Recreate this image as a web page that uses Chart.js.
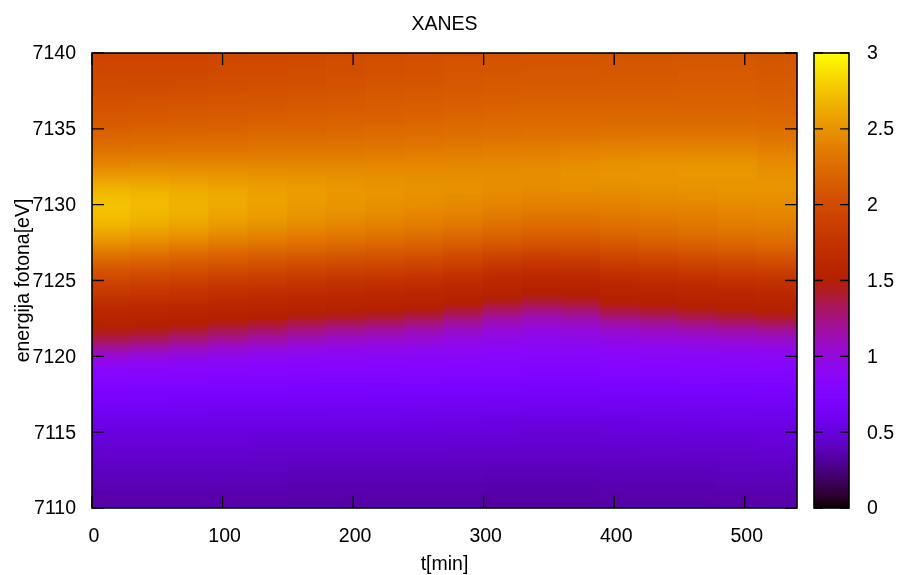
<!DOCTYPE html>
<html>
<head>
<meta charset="utf-8">
<title>XANES</title>
<script src="https://cdn.jsdelivr.net/npm/chart.js@4"></script>
<style>
    body { margin: 0; background: #fff; }
    canvas { position: absolute; top: 0; }
    #wykres { left: 0; }
    #skala { left: 800px; }
</style>
</head>
<body>
<canvas id="wykres" width="898" height="575"></canvas>
<canvas id="skala" width="98" height="575"></canvas>
<script>
// srodki kolumn czasu [min], kazda kolumna ma 30 min szerokosci
const times = [15, 45, 75, 105, 135, 165, 195, 225, 255, 285, 315, 345, 375, 405, 435, 465, 495, 525];

// srodki wierszy energii [eV]
const energies = [
    7110.5, 7111.5, 7112.5, 7113.5, 7114.5,
    7115, 7115.5, 7116, 7116.5, 7117, 7117.5, 7118, 7118.5, 7119,
    7119.5, 7120, 7120.5, 7121, 7121.5, 7122, 7122.5, 7123, 7123.5, 7124, 7124.5, 7125, 7125.5, 7126,
    7126.5, 7127, 7127.5, 7128, 7128.5, 7129, 7129.5, 7130, 7130.5, 7131, 7131.5, 7132, 7132.5, 7133,
    7133.5, 7134, 7134.5, 7135, 7135.5, 7136, 7136.5, 7137,
    7138, 7139, 7140
];

// odczyty z obrazka, jedna tablica na kazdy czas, kolejnosc jak w energies
const t15 = [.35,.38,.41,.45,.49,.51,.54,.57,.61,.65,.69,.74,.79,.84, .92,1.03,1.18,1.33,1.44,1.52,1.56,1.61,1.69,1.78,1.86,1.95,2.05,2.15, 2.27,2.38,2.49,2.58,2.65,2.70,2.73,2.74,2.72,2.67,2.60,2.52,2.44,2.37,2.30,2.25,2.20,2.16,2.12,2.09,2.06,2.03, 1.98,1.95,1.93];
const t45 = [.35,.38,.41,.45,.49,.51,.54,.57,.61,.65,.69,.73,.78,.84, .90,1.00,1.14,1.29,1.41,1.50,1.55,1.60,1.67,1.76,1.84,1.93,2.03,2.13, 2.24,2.35,2.45,2.54,2.61,2.66,2.69,2.70,2.69,2.65,2.59,2.52,2.45,2.38,2.31,2.26,2.21,2.17,2.13,2.10,2.07,2.04, 1.98,1.95,1.93];
const t75 = [.35,.38,.41,.45,.49,.51,.54,.57,.60,.64,.68,.73,.78,.83, .88,.97,1.09,1.23,1.36,1.47,1.54,1.58,1.65,1.73,1.81,1.90,2.00,2.10, 2.20,2.31,2.41,2.50,2.57,2.62,2.65,2.66,2.65,2.62,2.57,2.51,2.44,2.38,2.32,2.27,2.22,2.18,2.14,2.11,2.08,2.05, 1.99,1.96,1.94];
const t105 = [.35,.38,.41,.45,.49,.51,.53,.56,.60,.64,.68,.72,.77,.82, .86,.94,1.04,1.17,1.30,1.42,1.52,1.56,1.62,1.69,1.77,1.86,1.96,2.06, 2.16,2.26,2.36,2.45,2.52,2.57,2.60,2.62,2.62,2.59,2.55,2.50,2.44,2.38,2.32,2.27,2.23,2.19,2.15,2.12,2.09,2.07, 2.01,1.98,1.96];
const t135 = [.35,.38,.41,.44,.48,.50,.53,.56,.60,.64,.67,.72,.76,.81, .85,.92,1.01,1.13,1.25,1.38,1.49,1.55,1.60,1.66,1.74,1.83,1.93,2.03, 2.13,2.23,2.33,2.41,2.48,2.53,2.56,2.58,2.58,2.57,2.53,2.49,2.43,2.38,2.32,2.28,2.24,2.20,2.16,2.13,2.10,2.08, 2.02,1.99,1.97];
const t165 = [.34,.37,.40,.44,.48,.50,.53,.56,.60,.63,.67,.71,.75,.80, .84,.90,.98,1.08,1.20,1.32,1.44,1.53,1.58,1.64,1.71,1.80,1.90,2.00, 2.10,2.20,2.29,2.37,2.44,2.49,2.52,2.54,2.55,2.55,2.52,2.48,2.43,2.38,2.33,2.28,2.24,2.20,2.17,2.14,2.11,2.09, 2.03,2.00,1.98];
const t195 = [.34,.37,.40,.44,.48,.50,.53,.56,.59,.63,.67,.71,.75,.79, .83,.89,.96,1.05,1.16,1.28,1.41,1.51,1.56,1.62,1.69,1.77,1.87,1.97, 2.07,2.17,2.26,2.34,2.40,2.45,2.49,2.51,2.52,2.52,2.50,2.47,2.43,2.38,2.33,2.29,2.25,2.21,2.18,2.15,2.12,2.10, 2.05,2.02,2.00];
const t225 = [.34,.37,.40,.44,.48,.50,.53,.56,.59,.63,.66,.70,.74,.79, .82,.88,.95,1.03,1.13,1.25,1.38,1.49,1.55,1.60,1.67,1.75,1.85,1.95, 2.05,2.14,2.23,2.31,2.37,2.42,2.46,2.48,2.50,2.50,2.49,2.46,2.43,2.39,2.34,2.30,2.26,2.23,2.19,2.16,2.14,2.12, 2.07,2.04,2.02];
const t255 = [.34,.37,.40,.44,.48,.50,.52,.55,.59,.62,.66,.70,.74,.78, .82,.87,.93,1.01,1.10,1.21,1.34,1.46,1.54,1.58,1.64,1.72,1.82,1.92, 2.02,2.11,2.20,2.28,2.34,2.39,2.43,2.46,2.48,2.49,2.48,2.46,2.43,2.39,2.35,2.31,2.27,2.24,2.20,2.17,2.15,2.13, 2.08,2.05,2.03];
const t285 = [.34,.37,.40,.43,.47,.49,.52,.55,.58,.62,.66,.69,.73,.77, .81,.86,.91,.97,1.05,1.14,1.26,1.39,1.50,1.56,1.61,1.68,1.77,1.87, 1.97,2.07,2.16,2.24,2.31,2.36,2.41,2.44,2.46,2.48,2.48,2.46,2.43,2.40,2.36,2.32,2.28,2.25,2.22,2.19,2.16,2.14, 2.10,2.07,2.05];
const t315 = [.33,.36,.39,.43,.47,.49,.51,.54,.58,.61,.65,.69,.73,.77, .80,.85,.89,.94,1.00,1.07,1.17,1.30,1.43,1.52,1.57,1.62,1.70,1.80, 1.91,2.01,2.11,2.19,2.26,2.32,2.37,2.41,2.44,2.46,2.47,2.46,2.44,2.41,2.37,2.33,2.29,2.26,2.23,2.20,2.17,2.15, 2.11,2.08,2.06];
const t345 = [.33,.36,.39,.43,.46,.48,.51,.54,.57,.61,.65,.68,.72,.76, .80,.84,.88,.92,.97,1.03,1.12,1.24,1.37,1.47,1.53,1.58,1.66,1.76, 1.87,1.98,2.08,2.16,2.23,2.29,2.34,2.39,2.42,2.45,2.46,2.47,2.45,2.42,2.38,2.34,2.30,2.27,2.24,2.21,2.18,2.16, 2.12,2.09,2.07];
const t375 = [.33,.36,.39,.43,.46,.48,.51,.54,.57,.61,.65,.68,.72,.76, .80,.84,.88,.93,.98,1.05,1.15,1.27,1.40,1.49,1.54,1.59,1.67,1.77, 1.88,1.98,2.08,2.16,2.23,2.29,2.34,2.39,2.43,2.46,2.48,2.49,2.47,2.44,2.40,2.35,2.31,2.27,2.24,2.21,2.18,2.16, 2.12,2.09,2.07];
const t405 = [.34,.37,.40,.43,.47,.49,.51,.54,.58,.61,.65,.69,.73,.77, .81,.85,.90,.96,1.03,1.12,1.24,1.37,1.48,1.54,1.58,1.64,1.73,1.83, 1.93,2.03,2.12,2.20,2.26,2.31,2.36,2.40,2.44,2.47,2.49,2.50,2.49,2.46,2.41,2.36,2.32,2.28,2.24,2.21,2.18,2.16, 2.13,2.10,2.08];
const t435 = [.34,.37,.40,.44,.47,.49,.52,.55,.58,.62,.65,.69,.73,.77, .81,.86,.91,.98,1.06,1.16,1.28,1.41,1.50,1.55,1.60,1.67,1.76,1.87, 1.97,2.07,2.15,2.23,2.28,2.33,2.38,2.42,2.45,2.48,2.50,2.51,2.50,2.47,2.42,2.37,2.32,2.28,2.24,2.21,2.18,2.16, 2.13,2.10,2.08];
const t465 = [.34,.37,.40,.44,.48,.50,.52,.55,.59,.62,.66,.70,.74,.78, .82,.87,.93,1.00,1.09,1.20,1.33,1.45,1.53,1.57,1.62,1.70,1.80,1.91, 2.01,2.11,2.19,2.26,2.31,2.35,2.39,2.43,2.46,2.49,2.51,2.52,2.51,2.47,2.42,2.37,2.32,2.28,2.24,2.21,2.19,2.17, 2.14,2.11,2.09];
const t495 = [.35,.38,.41,.44,.48,.50,.53,.56,.59,.63,.66,.70,.74,.79, .82,.88,.94,1.02,1.12,1.24,1.37,1.48,1.54,1.58,1.64,1.73,1.83,1.94, 2.04,2.14,2.22,2.29,2.34,2.38,2.42,2.45,2.48,2.50,2.51,2.52,2.51,2.47,2.42,2.37,2.32,2.28,2.24,2.21,2.19,2.17, 2.14,2.11,2.09];
const t525 = [.35,.38,.41,.45,.49,.51,.53,.56,.60,.63,.67,.71,.75,.79, .83,.89,.96,1.05,1.15,1.28,1.41,1.50,1.55,1.60,1.67,1.76,1.86,1.97, 2.07,2.17,2.25,2.31,2.36,2.40,2.43,2.46,2.48,2.50,2.50,2.49,2.47,2.43,2.39,2.34,2.30,2.26,2.23,2.20,2.18,2.16, 2.13,2.10,2.08];

const xanes = [t15, t45, t75, t105, t135, t165, t195, t225, t255, t285, t315, t345, t375, t405, t435, t465, t495, t525];

const xTicks = [0, 100, 200, 300, 400, 500];
const yTicks = [7110, 7115, 7120, 7125, 7130, 7135, 7140];
const cbTicks = [0, 0.5, 1, 1.5, 2, 2.5, 3];

const czcionka = { family: '"Liberation Sans", Arial, sans-serif', size: 19.5 };
Chart.defaults.color = '#000';

// paleta gnuplota rgbformulae 7,5,15, zakres 0-3
function kolor(v) {
    const x = Math.min(1, Math.max(0, v / 3));
    const r = Math.sqrt(x);
    const g = x * x * x;
    const b = Math.max(0, Math.sin(2 * Math.PI * x));
    return `rgb(${Math.round(r * 255)},${Math.round(g * 255)},${Math.round(b * 255)})`;
}

// ramka i kreski do wewnatrz, jak w gnuplocie
function ramka(dlugosc, tylkoY) {
    return {
        id: 'ramka',
        afterDatasetsDraw(chart) {
            const { ctx, chartArea: a, scales } = chart;
            ctx.save();
            ctx.strokeStyle = '#000';
            ctx.lineWidth = 1.3;
            ctx.beginPath();
            if (!tylkoY) {
                scales.x.ticks.forEach(t => {
                    const px = scales.x.getPixelForValue(t.value);
                    ctx.moveTo(px, a.bottom);
                    ctx.lineTo(px, a.bottom - dlugosc);
                    ctx.moveTo(px, a.top);
                    ctx.lineTo(px, a.top + dlugosc);
                });
            }
            scales.y.ticks.forEach(t => {
                const py = scales.y.getPixelForValue(t.value);
                ctx.moveTo(a.left, py);
                ctx.lineTo(a.left + dlugosc, py);
                ctx.moveTo(a.right, py);
                ctx.lineTo(a.right - dlugosc, py);
            });
            ctx.stroke();
            ctx.lineWidth = 1.6;
            ctx.strokeRect(a.left, a.top, a.right - a.left, a.bottom - a.top);
            ctx.restore();
        }
    };
}

// kolor slupka przechodzi plynnie do sasiednich wierszy, zeby nie bylo pasow
function kolorKomorki(c) {
    const y = c.chart.scales.y;
    const i = c.datasetIndex;
    const kolumna = xanes[c.dataIndex];
    if (!kolumna || !c.chart.chartArea) return '#000';
    const v = kolumna[i];
    const nizej = i > 0 ? kolumna[i - 1] : v;
    const wyzej = i < energies.length - 1 ? kolumna[i + 1] : v;
    const dol = i === 0 ? 7110 : (energies[i - 1] + energies[i]) / 2;
    const gora = i === energies.length - 1 ? 7140 : (energies[i] + energies[i + 1]) / 2;
    const g = c.chart.ctx.createLinearGradient(0, y.getPixelForValue(dol), 0, y.getPixelForValue(gora));
    g.addColorStop(0, kolor((nizej + v) / 2));
    g.addColorStop(0.5, kolor(v));
    g.addColorStop(1, kolor((wyzej + v) / 2));
    return g;
}

// wiersze energii to zbiory slupkow plywajacych
const datasets = energies.map((e, i) => {
    const dol = i === 0 ? 7110 : (energies[i - 1] + e) / 2;
    const gora = i === energies.length - 1 ? 7140 : (e + energies[i + 1]) / 2;
    return {
        data: times.map(t => ({ x: t, y: [dol, gora + 0.1] })),
        backgroundColor: kolorKomorki,
        borderWidth: 0,
        grouped: false,
        barPercentage: 1.06,
        categoryPercentage: 1
    };
});

new Chart(document.getElementById('wykres'), {
    type: 'bar',
    data: { datasets },
    options: {
        responsive: false,
        animation: false,
        layout: { padding: { right: 101 } },
        plugins: {
            legend: { display: false },
            tooltip: { enabled: false },
            title: {
                display: true,
                text: 'XANES',
                fullSize: false,
                font: { ...czcionka, weight: 'normal' },
                padding: { top: 12.5, bottom: 17.1 }
            }
        },
        scales: {
            x: {
                type: 'linear',
                offset: false,
                min: 0,
                max: 540,
                grid: { display: false },
                border: { display: false },
                afterBuildTicks: s => { s.ticks = xTicks.map(v => ({ value: v })); },
                afterFit: s => { s.height = 67; },
                ticks: { font: czcionka, padding: 9, maxRotation: 0, labelOffset: 2 },
                title: { display: true, text: 't[min]', font: czcionka, padding: { top: 0, bottom: -1 } }
            },
            y: {
                min: 7110,
                max: 7140,
                grid: { display: false },
                border: { display: false },
                afterBuildTicks: s => { s.ticks = yTicks.map(v => ({ value: v })); },
                afterFit: s => { s.width = 92; },
                ticks: { font: czcionka, padding: 8, labelOffset: 1, callback: v => String(v) },
                title: { display: true, text: 'energija fotona[eV]', font: czcionka, padding: { top: 12, bottom: 0 } }
            }
        }
    },
    plugins: [ramka(12, false)]
});

new Chart(document.getElementById('skala'), {
    type: 'bar',
    data: {
        labels: [''],
        datasets: [{
            data: [[0, 3]],
            barPercentage: 1,
            categoryPercentage: 1,
            borderWidth: 0,
            backgroundColor: c => {
                const a = c.chart.chartArea;
                if (!a) return '#000';
                const g = c.chart.ctx.createLinearGradient(0, a.bottom, 0, a.top);
                for (let i = 0; i <= 128; i++) g.addColorStop(i / 128, kolor(3 * i / 128));
                return g;
            }
        }]
    },
    options: {
        responsive: false,
        animation: false,
        layout: { padding: { left: 14, top: 53 } },
        plugins: { legend: { display: false }, tooltip: { enabled: false } },
        scales: {
            x: {
                display: true,
                grid: { display: false },
                border: { display: false },
                ticks: { display: false },
                afterFit: s => { s.height = 67; }
            },
            y: {
                position: 'right',
                min: 0,
                max: 3,
                grid: { display: false },
                border: { display: false },
                afterBuildTicks: s => { s.ticks = cbTicks.map(v => ({ value: v })); },
                afterFit: s => { s.width = 49; },
                ticks: { font: czcionka, padding: 10, labelOffset: 1, callback: v => String(v) }
            }
        }
    },
    plugins: [ramka(9, true)]
});
</script>
</body>
</html>
